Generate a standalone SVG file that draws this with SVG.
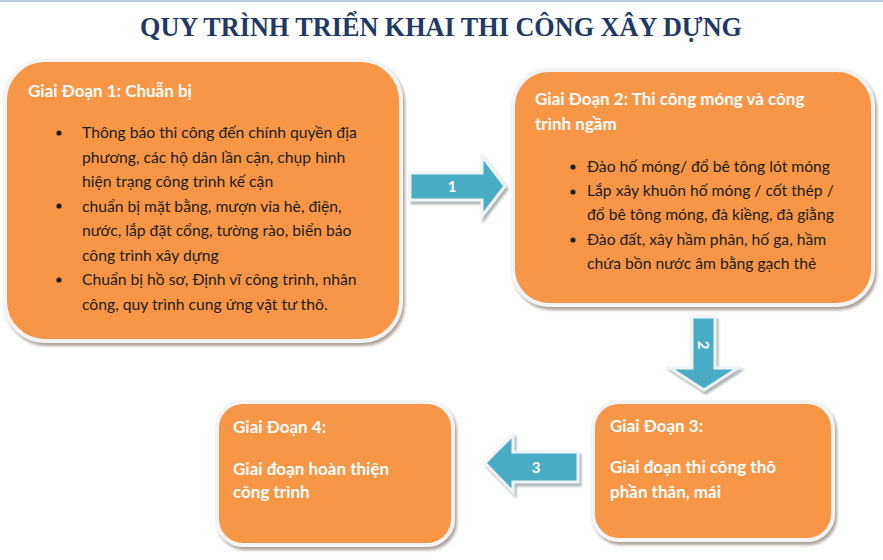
<svg xmlns="http://www.w3.org/2000/svg" width="883" height="560" viewBox="0 0 883 560">
<defs>
<filter id="sh" x="-10%" y="-10%" width="125%" height="130%">
<feDropShadow dx="2" dy="3" stdDeviation="1.5" flood-color="#8a7a70" flood-opacity="0.7"/>
</filter>
<filter id="ash" x="-20%" y="-20%" width="150%" height="150%">
<feDropShadow dx="2" dy="3" stdDeviation="1" flood-color="#9aa4a8" flood-opacity="0.8"/>
</filter>
</defs>
<style>
.box{fill:#F79646;stroke:#f4f4f4;stroke-width:4;filter:url(#sh)}
.arr{fill:#4BACC6;stroke:#eef3f5;stroke-width:3;stroke-linejoin:miter;filter:url(#ash)}
.title{font-family:"Liberation Serif","Times New Roman",serif;font-weight:bold;font-size:28px;fill:#1F3864}
.h{font-family:Lato,"Liberation Sans",sans-serif;font-weight:bold;font-size:17px;fill:#ffffff}
.t{font-family:Lato,"Liberation Sans",sans-serif;font-size:15.7px;fill:#1c1c1c}
.n{font-family:Lato,"Liberation Sans",sans-serif;font-weight:bold;font-size:15px;fill:#ffffff;text-anchor:middle}
.dot{fill:#1c1c1c}
</style>
<rect width="883" height="560" fill="#ffffff"/>
<line x1="0" y1="1" x2="883" y2="1" stroke="#b8cde0" stroke-width="2"/>
<text class="title" x="441" y="36" text-anchor="middle" textLength="602" lengthAdjust="spacingAndGlyphs">QUY TRÌNH TRIỂN KHAI THI CÔNG XÂY DỰNG</text>

<g id="connectors">
<g id="arrow1">
<polygon class="arr" points="410,173 482,173 482,156 505,186 482,216 482,200 410,200"/>
<text class="n" x="452" y="192">1</text>
</g>
<g id="arrow2">
<polygon class="arr" points="692,317 715,317 715,368 738,368 704,390 670,368 692,368"/>
<text class="n" x="703" y="345" transform="rotate(90 703 345)" dy="5">2</text>
</g>
<g id="arrow3">
<polygon class="arr" points="578,452 513,452 513,435 485,463 513,492 513,482 578,482"/>
<text class="n" x="536" y="473">3</text>
</g>
</g>

<g id="stage1">
<rect class="box" x="5" y="60" width="396" height="281" rx="40" ry="40"/>
<text class="h" x="28" y="97">Giai Đoạn 1: Chuẫn bị</text>
<circle class="dot" cx="59" cy="133" r="2.6"/>
<circle class="dot" cx="59" cy="206" r="2.6"/>
<circle class="dot" cx="59" cy="280" r="2.6"/>
<text class="t">
<tspan x="82" y="138">Thông báo thi công đến chính quyền địa</tspan>
<tspan x="82" y="162.5">phương, các hộ dân lần cận, chụp hình</tspan>
<tspan x="82" y="187">hiện trạng công trình kế cận</tspan>
<tspan x="82" y="211.5">chuẩn bị mặt bằng, mượn vỉa hè, điện,</tspan>
<tspan x="82" y="236">nước, lắp đặt cổng, tường rào, biển báo</tspan>
<tspan x="82" y="260.5">công trình xây dựng</tspan>
<tspan x="82" y="285">Chuẩn bị hồ sơ, Định vĩ công trình, nhân</tspan>
<tspan x="82" y="309.5">công, quy trình cung ứng vật tư thô.</tspan>
</text>
</g>

<g id="stage2">
<rect class="box" x="513" y="70" width="360" height="235" rx="36" ry="36"/>
<text class="h">
<tspan x="535" y="105">Giai Đoạn 2: Thi công móng và công</tspan>
<tspan x="535" y="130">trình ngầm</tspan>
</text>
<circle class="dot" cx="573" cy="167" r="2.6"/>
<circle class="dot" cx="573" cy="192" r="2.6"/>
<circle class="dot" cx="573" cy="240" r="2.6"/>
<text class="t">
<tspan x="587" y="172">Đào hố móng/ đổ bê tông lót móng</tspan>
<tspan x="587" y="196">Lắp xây khuôn hố móng / cốt thép /</tspan>
<tspan x="587" y="220">đổ bê tông móng, đà kiềng, đà giằng</tspan>
<tspan x="587" y="245">Đào đất, xây hầm phân, hố ga, hầm</tspan>
<tspan x="587" y="269">chứa bồn nước âm bằng gạch thẻ</tspan>
</text>
</g>

<g id="stage3">
<rect class="box" x="593" y="402" width="240" height="138" rx="26" ry="26"/>
<text class="h">
<tspan x="610" y="432">Giai Đoạn 3:</tspan>
<tspan x="610" y="473">Giai đoạn thi công thô</tspan>
<tspan x="610" y="498">phần thân, mái</tspan>
</text>
</g>

<g id="stage4">
<rect class="box" x="217" y="402" width="236" height="143" rx="26" ry="26"/>
<text class="h">
<tspan x="233" y="433">Giai Đoạn 4:</tspan>
<tspan x="233" y="475">Giai đoạn hoàn thiện</tspan>
<tspan x="233" y="498">công trình</tspan>
</text>
</g>
</svg>
